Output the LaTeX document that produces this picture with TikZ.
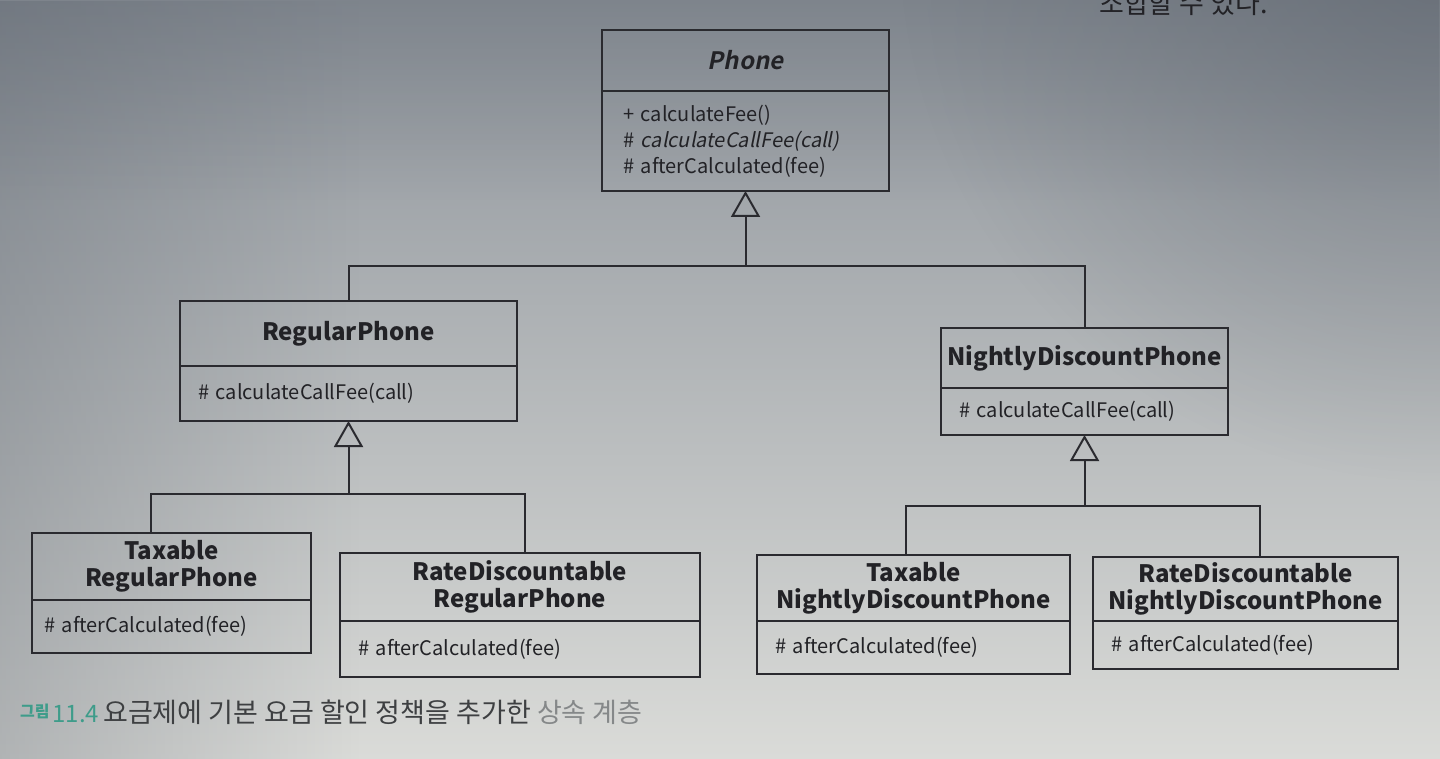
\documentclass[tikz,border=0pt]{standalone}
\usepackage{fontspec}
\setmainfont{Noto Sans CJK KR}[AutoFakeSlant=0.2]
\newfontface\classslant{Noto Sans CJK KR Bold}[FakeSlant=0.2]
\usetikzlibrary{arrows.meta,fadings}

\definecolor{ink}{HTML}{222226}
\definecolor{edge}{HTML}{2A2A2F}
\definecolor{capgreen}{HTML}{3E9C8A}
\definecolor{capgray}{HTML}{3E4042}
\definecolor{capfaint}{HTML}{858889}
\definecolor{pagetop}{HTML}{8E949B}
\definecolor{pagemid}{HTML}{D0D3D5}
\definecolor{pagebot}{HTML}{DADBD8}
\definecolor{shadow}{HTML}{5A616B}

\tikzfading[name=glow, inner color=transparent!0, outer color=transparent!100]

\begin{document}
\begin{tikzpicture}[x=1pt,y=-1pt,
  box/.style={draw=edge, line width=2pt, inner sep=0pt, outer sep=0pt, text=ink},
  title/.style={box, align=center, font=\fontsize{24}{27}\selectfont\bfseries},
  members/.style={box, align=left, inner xsep=18pt, font=\fontsize{20}{26}\selectfont},
  inherit/.style={draw=edge, line width=2pt,
    -{Triangle[open, length=26pt, width=29pt, line width=2pt]}},
  branch/.style={draw=edge, line width=2pt},
]
% page background with uneven lighting
\useasboundingbox (0,0) rectangle (1440,759);
\shade[top color=pagetop, middle color=pagemid, bottom color=pagebot] (0,0) rectangle (1440,759);
\fill[shadow, path fading=east, fill opacity=0.32] (0,0) rectangle (360,759);
\fill[shadow, path fading=south, fill opacity=0.30] (0,0) rectangle (1440,200);
\fill[shadow, path fading=glow, fill opacity=0.55] (1440,-60) circle (540);

% running text of the page, cut by the top edge
\node[anchor=base east, inner sep=0pt, font=\fontsize{27}{27}\selectfont, text=ink]
  (pagetext) at (1268,14) {조합할 수 있다.};

% Phone
\node[title, minimum width=287pt, minimum height=61pt, anchor=north west]
  (phoneT) at (602,30) {\classslant Phone};
\node[members, inner xsep=21pt, text width=245pt, minimum height=100pt, anchor=north west]
  (phoneM) at (phoneT.south west)
  {+ calculateFee()\\ \# {\itshape calculateCallFee(call)}\\ \# afterCalculated(fee)};

% RegularPhone
\node[title, minimum width=337pt, minimum height=65pt, anchor=north west]
  (regT) at (180,301) {RegularPhone};
\node[members, text width=301pt, minimum height=55pt, anchor=north west]
  (regM) at (regT.south west) {\# calculateCallFee(call)};

% NightlyDiscountPhone
\node[title, minimum width=287pt, minimum height=60pt, anchor=north west]
  (ndT) at (941,328) {NightlyDiscountPhone};
\node[members, text width=251pt, minimum height=47pt, anchor=north west]
  (ndM) at (ndT.south west) {\# calculateCallFee(call)};

% TaxableRegularPhone
\node[title, minimum width=279pt, minimum height=67pt, anchor=north west]
  (trT) at (32,533) {Taxable\\RegularPhone};
\node[members, inner xsep=12pt, text width=255pt, minimum height=53pt, anchor=north west]
  (trM) at (trT.south west) {\# afterCalculated(fee)};

% RateDiscountableRegularPhone
\node[title, minimum width=360pt, minimum height=68pt, anchor=north west]
  (rrT) at (340,553) {RateDiscountable\\RegularPhone};
\node[members, text width=324pt, minimum height=56pt, anchor=north west]
  (rrM) at (rrT.south west) {\# afterCalculated(fee)};

% TaxableNightlyDiscountPhone
\node[title, minimum width=313pt, minimum height=66pt, anchor=north west]
  (tnT) at (757,555) {Taxable\\NightlyDiscountPhone};
\node[members, text width=277pt, minimum height=53pt, anchor=north west]
  (tnM) at (tnT.south west) {\# afterCalculated(fee)};

% RateDiscountableNightlyDiscountPhone
\node[title, minimum width=305pt, minimum height=64pt, anchor=north west]
  (rnT) at (1093,557) {RateDiscountable\\NightlyDiscountPhone};
\node[members, text width=269pt, minimum height=48pt, anchor=north west]
  (rnM) at (rnT.south west) {\# afterCalculated(fee)};

% generalisation trees
\path (phoneM.south) ++(0,75) coordinate (j1);
\path (regM.south) ++(0,73) coordinate (j2);
\path (ndM.south) ++(0,71) coordinate (j3);

\draw[inherit] (j1) -- (phoneM.south);
\draw[branch] (regT.north) |- (j1) -| (ndT.north);

\draw[inherit] (j2) -- (regM.south);
\draw[branch] ([xshift=-21pt]trT.north) |- (j2) -| ([xshift=5pt]rrT.north);

\draw[inherit] (j3) -- (ndM.south);
\draw[branch] ([xshift=-8pt]tnT.north) |- (j3) -| ([xshift=14pt]rnT.north);

% figure caption
\node[anchor=base west, inner sep=0pt] (caption) at (20,722)
  {{\fontsize{16}{16}\selectfont\bfseries\color{capgreen}\raisebox{5pt}{그림}}\hspace{3pt}%
   {\fontsize{24}{24}\selectfont\color{capgreen}11.4}\hspace{4pt}%
   {\fontsize{27}{27}\selectfont\color{capgray}요금제에 기본 요금 할인 정책을 추가한 {\color{capfaint}상속 계층}}};
\end{tikzpicture}
\end{document}
